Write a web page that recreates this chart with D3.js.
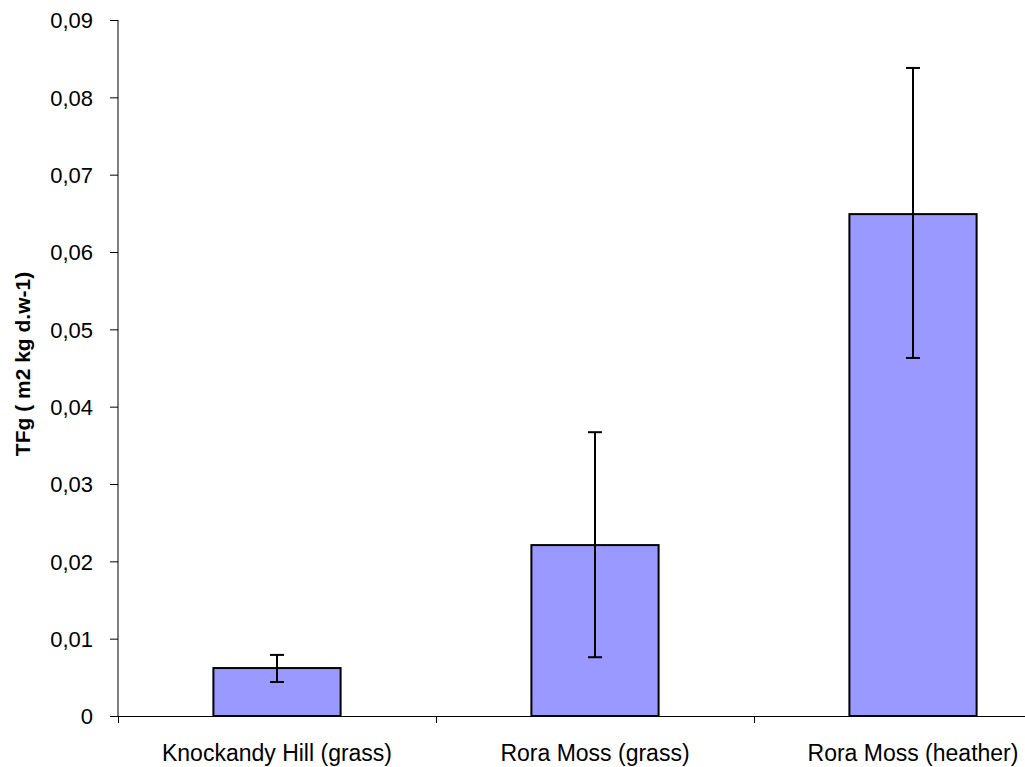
<!DOCTYPE html>
<html>
<head>
<meta charset="utf-8">
<script src="https://cdn.jsdelivr.net/npm/d3@7"></script>
<style>
  html, body { margin: 0; padding: 0; background: #fff; }
  svg { display: block; font-family: "Liberation Sans", Arial, sans-serif; }
</style>
</head>
<body>
<svg id="chart" width="1025" height="767"></svg>
<script>
// Transfer factor by site / vegetation
const categories = ["Knockandy Hill (grass)", "Rora Moss (grass)", "Rora Moss (heather)"];
const means = [0.0062, 0.0221, 0.0649];
const errLow = [0.0044, 0.0076, 0.0463];
const errHigh = [0.0079, 0.0367, 0.0838];
const yTicks = [0, 0.01, 0.02, 0.03, 0.04, 0.05, 0.06, 0.07, 0.08, 0.09];
const yLabel = "TFg ( m2 kg d.w-1)";

const svg = d3.select("#chart");
const plotLeft = 118, plotTop = 20, plotBottom = 716, bandW = 318;

const x = d3.scaleBand()
  .domain(categories)
  .range([plotLeft, plotLeft + bandW * categories.length])
  .paddingInner(0.6)
  .paddingOuter(0.3);

const y = d3.scaleLinear().domain([0, 0.09]).range([plotBottom, plotTop]);

const fmt = d => d === 0 ? "0" : d3.format(".2f")(d).replace(".", ",");

// y axis
const yAxis = svg.append("g")
  .attr("transform", `translate(${plotLeft},0)`)
  .call(d3.axisLeft(y).tickValues(yTicks).tickFormat(fmt).tickSize(8).tickPadding(17));
yAxis.attr("font-size", 22).attr("font-family", "Liberation Sans, Arial, sans-serif");
yAxis.select(".domain").attr("d", `M0,${plotTop}V${plotBottom + 0.5}`).attr("stroke", "#000");
yAxis.selectAll(".tick line").attr("stroke", "#000");
yAxis.selectAll(".tick text").attr("fill", "#000").attr("dy", "0.36em");

// x axis baseline with separator ticks between categories
const xEdges = d3.range(categories.length + 1).map(i => plotLeft + i * bandW);
svg.append("line")
  .attr("x1", plotLeft - 8).attr("x2", 1025)
  .attr("y1", plotBottom + 0.5).attr("y2", plotBottom + 0.5)
  .attr("stroke", "#000");
svg.selectAll(".xsep").data(xEdges).enter().append("line")
  .attr("x1", d => d + 0.5).attr("x2", d => d + 0.5)
  .attr("y1", plotBottom).attr("y2", plotBottom + 7)
  .attr("stroke", "#000");

// category labels
svg.selectAll(".xlab").data(categories).enter().append("text")
  .attr("x", d => x(d) + x.bandwidth() / 2)
  .attr("y", 761)
  .attr("text-anchor", "middle")
  .attr("font-size", 23)
  .attr("fill", "#000")
  .text(d => d);

// bars
svg.selectAll(".bar").data(categories).enter().append("rect")
  .attr("x", d => x(d))
  .attr("y", (d, i) => y(means[i]))
  .attr("width", x.bandwidth())
  .attr("height", (d, i) => y(0) - y(means[i]))
  .attr("fill", "#9999ff")
  .attr("stroke", "#000")
  .attr("stroke-width", 2);

// error bars
const eb = svg.selectAll(".err").data(categories).enter().append("g")
  .attr("stroke", "#000").attr("stroke-width", 2);
eb.append("line")
  .attr("x1", d => x(d) + x.bandwidth() / 2).attr("x2", d => x(d) + x.bandwidth() / 2)
  .attr("y1", (d, i) => y(errLow[i])).attr("y2", (d, i) => y(errHigh[i]));
eb.append("line")
  .attr("x1", d => x(d) + x.bandwidth() / 2 - 7).attr("x2", d => x(d) + x.bandwidth() / 2 + 7)
  .attr("y1", (d, i) => y(errLow[i])).attr("y2", (d, i) => y(errLow[i]));
eb.append("line")
  .attr("x1", d => x(d) + x.bandwidth() / 2 - 7).attr("x2", d => x(d) + x.bandwidth() / 2 + 7)
  .attr("y1", (d, i) => y(errHigh[i])).attr("y2", (d, i) => y(errHigh[i]));

// y axis title
svg.append("text")
  .attr("transform", "translate(30,364) rotate(-90)")
  .attr("text-anchor", "middle")
  .attr("font-size", 21)
  .attr("font-weight", "bold")
  .attr("fill", "#000")
  .text(yLabel);
</script>
</body>
</html>
